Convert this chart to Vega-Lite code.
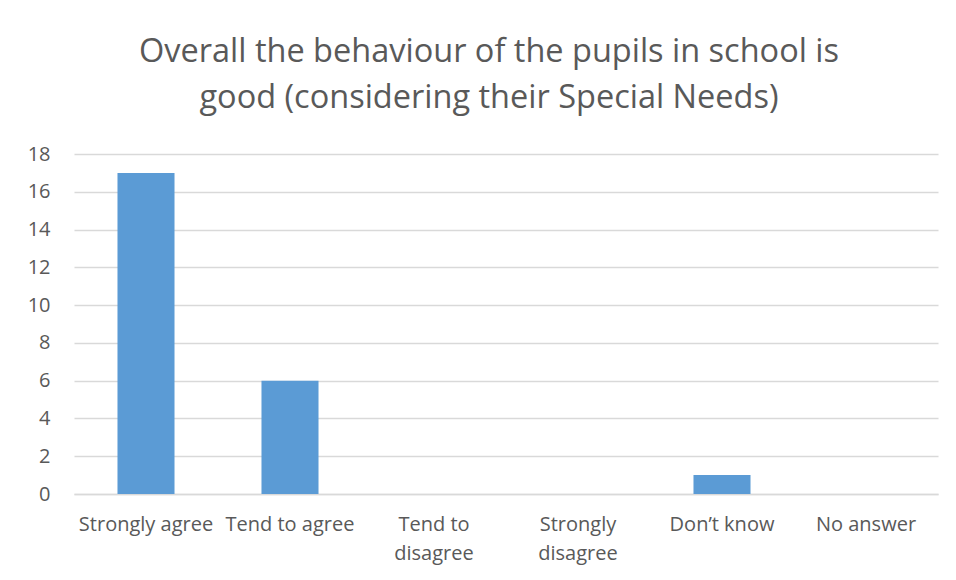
{
  "$schema": "https://vega.github.io/schema/vega-lite/v6.json",
  "width": 864,
  "height": 340,
  "autosize": "none",
  "padding": {"left": 74, "top": 154, "right": 18, "bottom": 86},
  "background": "white",
  "title": {
    "text": ["Overall the behaviour of the pupils in school is", "good (considering their Special Needs)"],
    "font": "Open Sans",
    "fontSize": 32.5,
    "fontWeight": "normal",
    "color": "#595959",
    "lineHeight": 46,
    "anchor": "middle",
    "dx": -17,
    "offset": 30
  },
  "data": {
    "values": [
      {"category": "Strongly agree", "count": 17},
      {"category": "Tend to agree", "count": 6},
      {"category": "Tend to disagree", "count": 0},
      {"category": "Strongly disagree", "count": 0},
      {"category": "Don’t know", "count": 1},
      {"category": "No answer", "count": 0}
    ]
  },
  "mark": {"type": "bar", "color": "#5B9BD5"},
  "encoding": {
    "x": {
      "field": "category",
      "type": "nominal",
      "sort": null,
      "scale": {"paddingInner": 0.604, "paddingOuter": 0.302},
      "axis": {
        "title": null,
        "labelAngle": 0,
        "labelFont": "Open Sans",
        "labelFontSize": 20,
        "labelColor": "#595959",
        "labelPadding": 20,
        "labelLineHeight": 29,
        "labelBaseline": "top",
        "labelLimit": 200,
        "ticks": false,
        "domainColor": "#D9D9D9",
        "domainWidth": 1.5,
        "labelExpr": "datum.value == 'Tend to disagree' ? ['Tend to', 'disagree'] : datum.value == 'Strongly disagree' ? ['Strongly', 'disagree'] : datum.value"
      }
    },
    "y": {
      "field": "count",
      "type": "quantitative",
      "scale": {"domain": [0, 18]},
      "axis": {
        "title": null,
        "values": [0, 2, 4, 6, 8, 10, 12, 14, 16, 18],
        "labelFont": "Open Sans",
        "labelFontSize": 20,
        "labelColor": "#595959",
        "labelPadding": 24,
        "ticks": false,
        "domain": false,
        "gridColor": "#D9D9D9",
        "gridWidth": 1.5
      }
    }
  },
  "config": {"view": {"stroke": null}}
}
